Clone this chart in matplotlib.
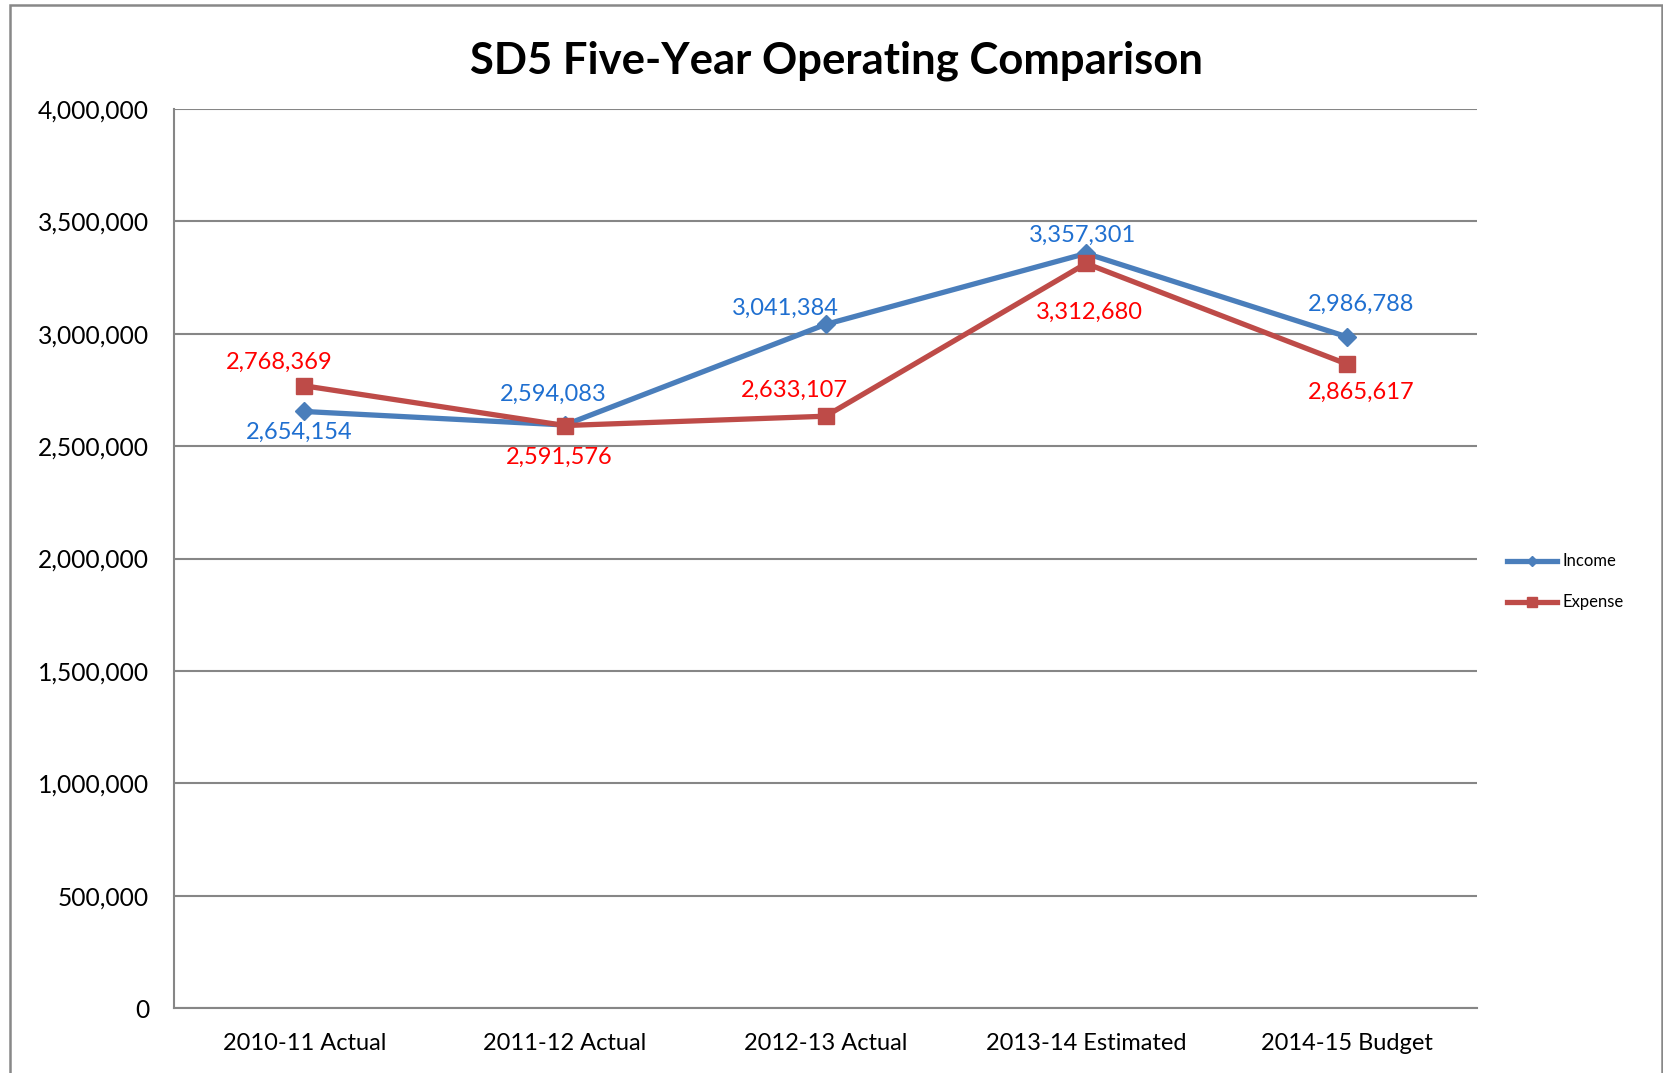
import matplotlib
matplotlib.use("Agg")
import matplotlib.pyplot as plt
from matplotlib.patches import Rectangle
from matplotlib.ticker import FuncFormatter

categories = ["2010-11 Actual", "2011-12 Actual", "2012-13 Actual", "2013-14 Estimated", "2014-15 Budget"]
income = [2654154, 2594083, 3041384, 3357301, 2986788]
expense = [2768369, 2591576, 2633107, 3312680, 2865617]
title = "SD5 Five-Year Operating Comparison"

# label offsets in pixels (style only)
inc_off = [(-5, -21), (-12, 31), (-40, 16), (-4, 18), (14, 32)]
exp_off = [(-25, 23), (-6, -32), (-31, 26), (3, -49), (14, -28)]

plt.rcParams['font.family'] = ['Lato', 'DejaVu Sans']

W, H = 1663, 1073
fig = plt.figure(figsize=(W / 100, H / 100), dpi=100)
ax = fig.add_axes([174 / W, 1 - 1008 / H, (1477 - 174) / W, (1008 - 109) / H])

x = list(range(len(categories)))
blue = "#4A7EBB"
red = "#BE4B48"
ax.plot(x, income, color=blue, lw=3.8, marker="D", ms=9, label="Income", zorder=3)
ax.plot(x, expense, color=red, lw=3.8, marker="s", ms=11, label="Expense", zorder=4)

for i, v in enumerate(income):
    ax.annotate(f"{v:,}", (i, v), xytext=inc_off[i], textcoords="offset pixels",
                ha="center", va="center", color="#1F6FD0", fontsize=17, zorder=5)
for i, v in enumerate(expense):
    ax.annotate(f"{v:,}", (i, v), xytext=exp_off[i], textcoords="offset pixels",
                ha="center", va="center", color="#FF0000", fontsize=17, zorder=5)

ax.set_xlim(-0.5, len(categories) - 0.5)
ax.set_ylim(0, 4000000)
ax.set_yticks(range(0, 4000001, 500000))
ax.yaxis.set_major_formatter(FuncFormatter(lambda v, p: f"{int(v):,}"))
ax.set_xticks(x)
ax.set_xticklabels(categories)
ax.tick_params(axis="both", length=0, colors="black")
ax.tick_params(axis="y", pad=18, labelsize=17.7)
ax.tick_params(axis="x", pad=18, labelsize=17)
ax.grid(axis="y", color="#868686", lw=1.5)
ax.set_axisbelow(True)
for s in ["top", "right"]:
    ax.spines[s].set_visible(False)
for s in ["left", "bottom"]:
    ax.spines[s].set_color("#868686")
    ax.spines[s].set_linewidth(1.5)

fig.text(836 / W, 1 - 61 / H, title, ha="center", va="center", fontsize=31.4, fontweight="bold")

leg = fig.legend(loc="center left", bbox_to_anchor=(1492 / W, 1 - 582 / H), frameon=False,
                 fontsize=12, handlelength=3.0, handletextpad=0.3, labelspacing=1.5,
                 markerscale=0.6)

fig.patches.append(Rectangle((10 / W, -0.1), (1662 - 10) / W, 1.1 - 5 / H, transform=fig.transFigure,
                             fill=False, edgecolor="#888888", lw=1.8, zorder=0))

fig.savefig("out.png", dpi=100)
